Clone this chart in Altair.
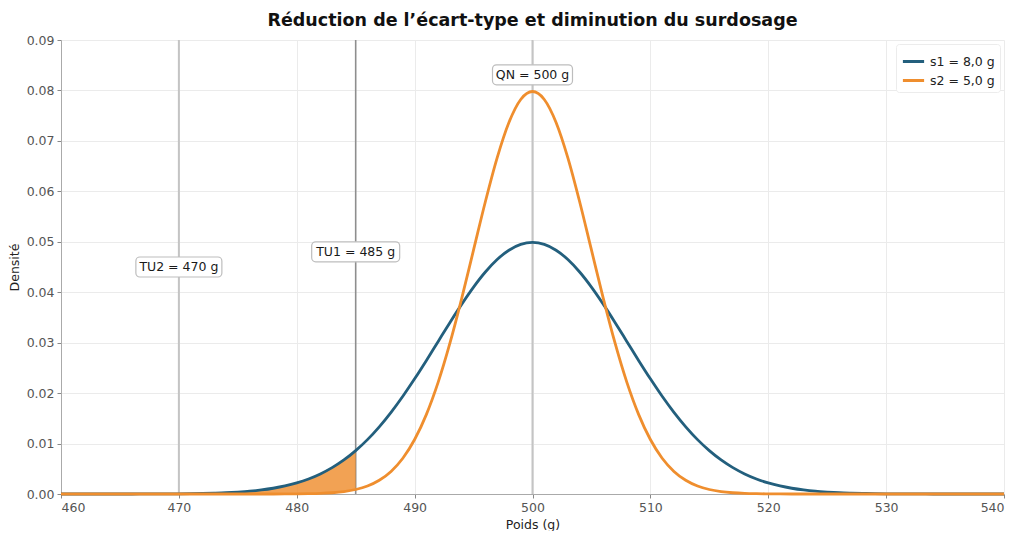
import altair as alt
import pandas as pd

# ---- data ----
x_vals = list(range(460, 541))

s1_label = "s1 = 8,0 g"
s2_label = "s2 = 5,0 g"

s1_density = [
    0, 0, 0, 0, 0, 0, 0, 0.00001, 0.00002, 0.00003,
    0.00004, 0.00007, 0.00011, 0.00017, 0.00025, 0.00038, 0.00055, 0.00080, 0.00114, 0.00159,
    0.00219, 0.00297, 0.00397, 0.00522, 0.00675, 0.00860, 0.01078, 0.01332, 0.01619, 0.01938,
    0.02283, 0.02648, 0.03025, 0.03401, 0.03764, 0.04102, 0.04401, 0.04648, 0.04833, 0.04948,
    0.04987,
    0.04948, 0.04833, 0.04648, 0.04401, 0.04102, 0.03764, 0.03401, 0.03025, 0.02648, 0.02283,
    0.01938, 0.01619, 0.01332, 0.01078, 0.00860, 0.00675, 0.00522, 0.00397, 0.00297, 0.00219,
    0.00159, 0.00114, 0.00080, 0.00055, 0.00038, 0.00025, 0.00017, 0.00011, 0.00007, 0.00004,
    0.00003, 0.00002, 0.00001, 0, 0, 0, 0, 0, 0, 0,
]

s2_density = [
    0, 0, 0, 0, 0, 0, 0, 0, 0, 0,
    0, 0, 0, 0, 0, 0, 0, 0, 0, 0.00001,
    0.00003, 0.00006, 0.00012, 0.00025, 0.00048, 0.00089, 0.00158, 0.00272, 0.00448, 0.00709,
    0.01080, 0.01579, 0.02218, 0.02995, 0.03884, 0.04839, 0.05794, 0.06664, 0.07365, 0.07821,
    0.07979,
    0.07821, 0.07365, 0.06664, 0.05794, 0.04839, 0.03884, 0.02995, 0.02218, 0.01579, 0.01080,
    0.00709, 0.00448, 0.00272, 0.00158, 0.00089, 0.00048, 0.00025, 0.00012, 0.00006, 0.00003,
    0.00001, 0, 0, 0, 0, 0, 0, 0, 0, 0,
    0, 0, 0, 0, 0, 0, 0, 0, 0, 0,
]

ref_x = [470, 485, 500]
ref_color = ["#c4c4c4", "#8e8e8e", "#c4c4c4"]
ref_width = [2, 1.6, 2]

label_x = [470, 485, 500]
label_y = [0.045, 0.048, 0.0831]
label_text = ["TU2 = 470 g", "TU1 = 485 g", "QN = 500 g"]
label_w = [86, 88, 80]

shade_limit = 485

x_ticks = [460, 470, 480, 490, 500, 510, 520, 530, 540]
y_ticks = [0, 0.01, 0.02, 0.03, 0.04, 0.05, 0.06, 0.07, 0.08, 0.09]

blue = "#235f7d"
orange = "#ef8e2e"

FONT = "DejaVu Sans"

# ---- tables ----
lines_df = pd.DataFrame({
    "x": x_vals * 2,
    "y": s1_density + s2_density,
    "serie": [s1_label] * len(x_vals) + [s2_label] * len(x_vals),
})
wide_df = pd.DataFrame({"x": x_vals, "s1": s1_density, "s2": s2_density})
refs_df = pd.DataFrame({"x": ref_x, "c": ref_color, "w": ref_width})
labels_df = pd.DataFrame({"x": label_x, "y": label_y, "t": label_text})

xscale = alt.Scale(domain=[460, 540], nice=False, zero=False)
yscale = alt.Scale(domain=[0, 0.09], nice=False)

xax = alt.Axis(values=x_ticks, format="d", title="Poids (g)", grid=True)
yax = alt.Axis(values=y_ticks, format=".2f", title="Densité", grid=True)

base_x = alt.X("x:Q", scale=xscale, axis=xax)
base_y = alt.Y("y:Q", scale=yscale, axis=yax)

rules = alt.Chart(refs_df).mark_rule().encode(
    x=alt.X("x:Q", scale=xscale),
    color=alt.Color("c:N", scale=None),
    strokeWidth=alt.StrokeWidth("w:Q", scale=None),
)

area = alt.Chart(wide_df).transform_filter(
    alt.datum.x <= shade_limit
).mark_area(color=orange, opacity=0.82).encode(
    x=alt.X("x:Q", scale=xscale),
    y=alt.Y("s1:Q", scale=yscale),
    y2="s2:Q",
)

lines = alt.Chart(lines_df).mark_line(strokeWidth=2.8, interpolate="monotone").encode(
    x=base_x,
    y=base_y,
    color=alt.Color(
        "serie:N",
        scale=alt.Scale(domain=[s1_label, s2_label], range=[blue, orange]),
        legend=alt.Legend(
            title=None,
            orient="top-right",
            offset=4,
            symbolType="stroke",
            symbolStrokeWidth=3,
            symbolSize=450,
            labelFont=FONT,
            labelFontSize=12.5,
            labelColor="#222222",
            fillColor="white",
            strokeColor="#ececec",
            padding=5,
            rowPadding=0,
            cornerRadius=3,
        ),
    ),
)

box_layers = []
for txt, w in zip(label_text, label_w):
    box_layers.append(
        alt.Chart(labels_df).transform_filter(alt.datum.t == txt).mark_rect(
            width=w, height=20, fill="white", stroke="#bdbdbd", strokeWidth=1.2, cornerRadius=4
        ).encode(
            x=alt.X("x:Q", scale=xscale),
            y=alt.Y("y:Q", scale=yscale),
        )
    )

texts = alt.Chart(labels_df).mark_text(
    font=FONT, fontSize=12.5, color="#1a1a1a", align="center", baseline="middle"
).encode(
    x=alt.X("x:Q", scale=xscale),
    y=alt.Y("y:Q", scale=yscale),
    text="t:N",
)

chart = alt.layer(rules, area, lines, *box_layers, texts).properties(
    width=943,
    height=454,
    padding={"top": 3, "left": 0, "right": 0, "bottom": 0},
    title=alt.TitleParams(
        "Réduction de l’écart-type et diminution du surdosage",
        font=FONT, fontSize=17.5, fontWeight="bold", color="#111111", offset=5,
    ),
).configure_view(stroke=None).configure_axis(
    labelFont=FONT,
    titleFont=FONT,
    labelFontSize=12.5,
    titleFontSize=12.5,
    labelColor="#555555",
    titleColor="#222222",
    titleFontWeight="normal",
    gridColor="#ebebeb",
    gridWidth=1,
    domainColor="#aaaaaa",
    tickColor="#888888",
    tickSize=4,
    labelPadding=3,
).configure_axisX(titlePadding=5).configure_axisY(titlePadding=5)

chart.save("out.html", embed_options={"renderer": "svg", "actions": False})
